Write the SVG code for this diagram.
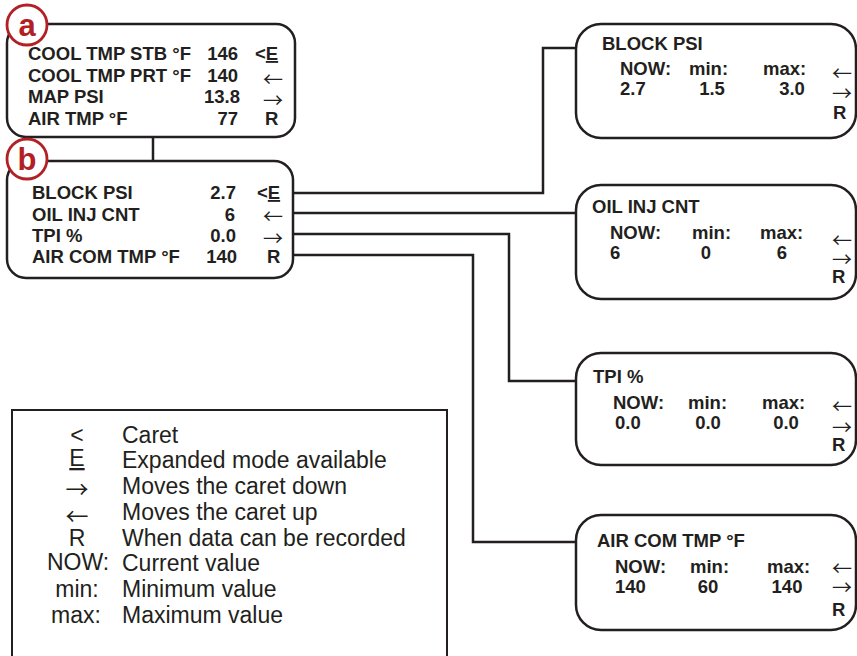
<svg xmlns="http://www.w3.org/2000/svg" width="857" height="656" viewBox="0 0 857 656">
<style>
.box{fill:#fff;stroke:#231f20;stroke-width:2.5}
.ln{fill:none;stroke:#231f20;stroke-width:2.5}
.b{font-family:"Liberation Sans",Arial,sans-serif;font-weight:bold;font-size:18.5px;fill:#231f20}
.ar{font-family:"Noto Sans CJK SC","Noto Sans CJK JP",sans-serif;font-weight:normal;font-size:20px;fill:#231f20}
.lar{font-family:"Noto Sans CJK SC","Noto Sans CJK JP",sans-serif;font-weight:normal;font-size:23px;fill:#231f20}
.lg{font-family:"Liberation Sans",Arial,sans-serif;font-size:23px;fill:#231f20}
.c{fill:#fff;stroke:#b21f24;stroke-width:2.8}
.cl{font-family:"Liberation Sans",Arial,sans-serif;font-weight:bold;font-size:31px;fill:#b21f24}
.e{text-decoration:underline}
.mid{text-anchor:middle}
.end{text-anchor:end}
</style>
<rect width="857" height="656" fill="#fff"/>
<g id="connectors">
<line class="ln" x1="153" y1="137" x2="153" y2="161"/>
<polyline class="ln" points="293,193 543,193 543,48 576,48"/>
<polyline class="ln" points="293,213 576,213"/>
<polyline class="ln" points="293,234 509,234 509,381 576,381"/>
<polyline class="ln" points="293,255 473,255 473,542 576,542"/>
</g>
<g id="node-a">
<rect class="box" x="7" y="24" width="288" height="113" rx="19"/>
<circle class="c" cx="27" cy="25" r="20"/>
<text class="cl mid" x="27" y="36">a</text>
<text class="b" x="28" y="60">COOL TMP STB °F</text>
<text class="b" x="28" y="82">COOL TMP PRT °F</text>
<text class="b" x="28" y="103">MAP PSI</text>
<text class="b" x="28" y="125">AIR TMP °F</text>
<text class="b end" x="238" y="60">146</text>
<text class="b end" x="238" y="82">140</text>
<text class="b end" x="240" y="103">13.8</text>
<text class="b end" x="238" y="125">77</text>
<text class="b" x="255" y="60">&lt;<tspan class="e">E</tspan></text>
<text class="ar" x="263" y="86.5">←</text>
<text class="ar" x="263" y="107.5">→</text>
<text class="b" x="265" y="125">R</text>
</g>
<g id="node-b">
<rect class="box" x="7" y="161" width="286" height="117" rx="19"/>
<circle class="c" cx="27" cy="159" r="20"/>
<text class="cl mid" x="27" y="170">b</text>
<text class="b" x="32" y="199">BLOCK PSI</text>
<text class="b" x="32" y="221">OIL INJ CNT</text>
<text class="b" x="32" y="242">TPI %</text>
<text class="b" x="32" y="263">AIR COM TMP °F</text>
<text class="b end" x="236" y="199">2.7</text>
<text class="b end" x="235" y="221">6</text>
<text class="b end" x="236" y="242">0.0</text>
<text class="b end" x="237" y="263">140</text>
<text class="b" x="257" y="199">&lt;<tspan class="e">E</tspan></text>
<text class="ar" x="263" y="224">←</text>
<text class="ar" x="263" y="245.5">→</text>
<text class="b" x="267" y="263">R</text>
</g>
<g id="node-block-psi">
<rect class="box" x="576" y="24" width="280" height="114" rx="25"/>
<text class="b" x="602" y="50">BLOCK PSI</text>
<text class="b" x="620" y="75">NOW:</text>
<text class="b" x="689" y="75">min:</text>
<text class="b" x="763" y="75">max:</text>
<text class="b" x="620" y="95">2.7</text>
<text class="b mid" x="712" y="95">1.5</text>
<text class="b mid" x="792" y="95">3.0</text>
<text class="ar" x="832" y="81">←</text>
<text class="ar" x="832" y="101">→</text>
<text class="b" x="833" y="119">R</text>
</g>
<g id="node-oil-inj-cnt">
<rect class="box" x="576" y="185" width="280" height="114" rx="25"/>
<text class="b" x="592" y="213">OIL INJ CNT</text>
<text class="b" x="610" y="239">NOW:</text>
<text class="b" x="692" y="239">min:</text>
<text class="b" x="760" y="239">max:</text>
<text class="b" x="610" y="259">6</text>
<text class="b mid" x="706" y="259">0</text>
<text class="b mid" x="782" y="259">6</text>
<text class="ar" x="832" y="248">←</text>
<text class="ar" x="832" y="267">→</text>
<text class="b" x="832" y="283">R</text>
</g>
<g id="node-tpi">
<rect class="box" x="576" y="353" width="280" height="112" rx="25"/>
<text class="b" x="593" y="383">TPI %</text>
<text class="b" x="613" y="409">NOW:</text>
<text class="b" x="688" y="409">min:</text>
<text class="b" x="762" y="409">max:</text>
<text class="b" x="615" y="429">0.0</text>
<text class="b mid" x="708" y="429">0.0</text>
<text class="b mid" x="786" y="429">0.0</text>
<text class="ar" x="832" y="414">←</text>
<text class="ar" x="832" y="435">→</text>
<text class="b" x="832" y="451">R</text>
</g>
<g id="node-air-com-tmp">
<rect class="box" x="576" y="515" width="280" height="115" rx="25"/>
<text class="b" x="597" y="547">AIR COM TMP °F</text>
<text class="b" x="615" y="573">NOW:</text>
<text class="b" x="690" y="573">min:</text>
<text class="b" x="767" y="573">max:</text>
<text class="b" x="615" y="593">140</text>
<text class="b mid" x="708" y="593">60</text>
<text class="b mid" x="787" y="593">140</text>
<text class="ar" x="832" y="575.5">←</text>
<text class="ar" x="832" y="594.5">→</text>
<text class="b" x="832" y="616">R</text>
</g>
<g id="legend">
<rect x="12" y="410" width="435" height="260" fill="#fff" stroke="#231f20" stroke-width="2"/>
<text class="lg mid" x="77" y="443">&lt;</text>
<text class="lg mid e" x="77" y="466">E</text>
<text class="lar mid" x="77" y="497.5">→</text>
<text class="lar mid" x="77" y="524.5">←</text>
<text class="lg mid" x="77" y="546">R</text>
<text class="lg mid" x="78" y="570">NOW:</text>
<text class="lg mid" x="77" y="597">min:</text>
<text class="lg mid" x="76" y="623">max:</text>
<text class="lg" x="122" y="443">Caret</text>
<text class="lg" x="122" y="468">Expanded mode available</text>
<text class="lg" x="122" y="494">Moves the caret down</text>
<text class="lg" x="122" y="520">Moves the caret up</text>
<text class="lg" x="122" y="546">When data can be recorded</text>
<text class="lg" x="122" y="571">Current value</text>
<text class="lg" x="122" y="597">Minimum value</text>
<text class="lg" x="122" y="623">Maximum value</text>
</g>
</svg>
